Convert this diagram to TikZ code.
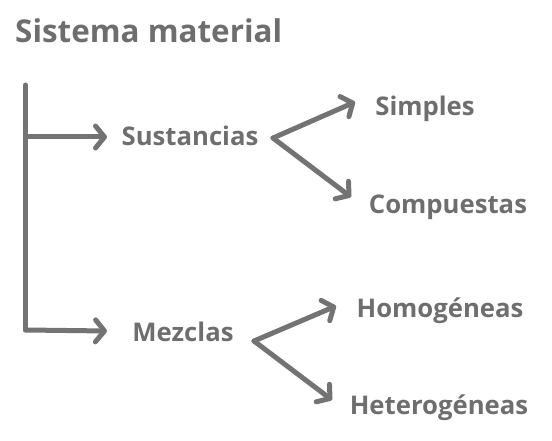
\documentclass[tikz,border=0pt]{standalone}
\usepackage{fontspec}
\setmainfont{Open Sans}
\usetikzlibrary{arrows.meta}
\definecolor{txt}{HTML}{6E6E6E}
\definecolor{ln}{HTML}{737373}
\begin{document}
\begin{tikzpicture}[x=1pt,y=-1pt,
  lbl/.style={inner sep=0pt, text=txt, font=\bfseries\fontsize{25.7}{25.7}\selectfont, anchor=center},
  ttl/.style={inner sep=0pt, text=txt, font=\bfseries\fontsize{31.4}{31.4}\selectfont, anchor=west},
  conn/.style={draw=ln, line width=5pt, line cap=round, line join=round},
  arr/.style={conn, -{Straight Barb[length=9pt,width=22pt,line cap=round,line join=round]}}]
\useasboundingbox (0,0) rectangle (552,441);
\node[ttl] (title) at (15,31) {Sistema material};
\coordinate (top) at (25.5,85);
\coordinate (j1) at (25.5,137);
\coordinate (j2) at (25.5,330);
\node[lbl] (sus) at (190,136) {Sustancias};
\node[lbl] (mez) at (183,332) {Mezclas};
\node[lbl] (sim) at (425,109) {Simples};
\node[lbl] (com) at (448,207) {Compuestas};
\node[lbl] (hom) at (440,311) {Homogéneas};
\node[lbl] (het) at (439,408) {Heterogéneas};
\coordinate (v1) at (273,138);
\coordinate (v2) at (254,341);
\draw[conn] (top) -- (j2);
\draw[arr] (j1) -- (107,137);
\draw[arr] (j2) -- (107,331);
\draw[arr] (v1) -- (355,102);
\draw[arr] (v1) -- (351,197);
\draw[arr] (v2) -- (336,306);
\draw[arr] (v2) -- (332,400);
\end{tikzpicture}
\end{document}
